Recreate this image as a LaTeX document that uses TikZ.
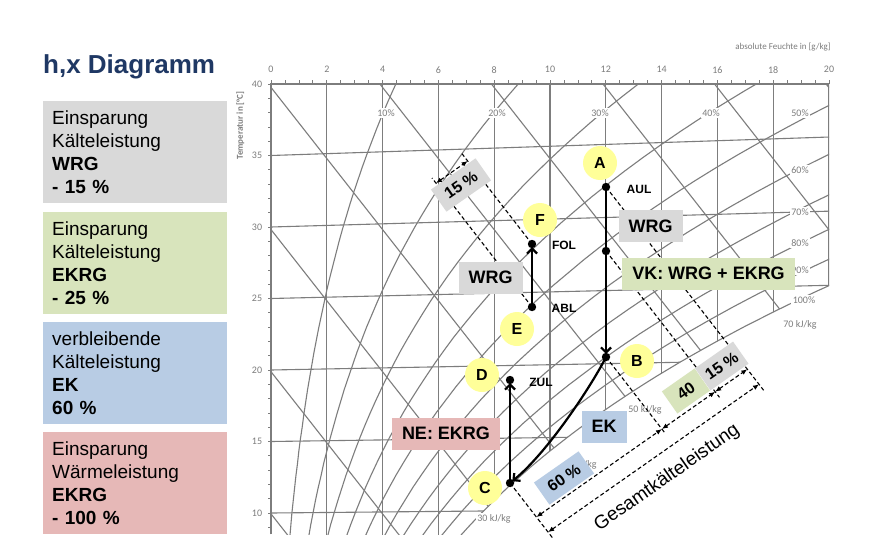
\documentclass[tikz,border=0pt]{standalone}
\usepackage{fontspec}
\setmainfont{Liberation Sans}
\newfontfamily\chartfont{Carlito}
\usetikzlibrary{calc, positioning, arrows.meta}

\definecolor{titleblue}{RGB}{31,56,100}
\definecolor{boxgray}{RGB}{217,217,217}
\definecolor{boxgreen}{RGB}{216,228,188}
\definecolor{boxblue}{RGB}{184,204,228}
\definecolor{boxred}{RGB}{230,184,183}
\definecolor{markyellow}{RGB}{255,255,153}
\definecolor{chartgray}{RGB}{125,125,125}

\newcommand{\Marke}[4]{%
    % #1 : name
    % #2 : x
    % #3 : y
    % #4 : letter
    \node[marke] (#1) at (#2,#3) {#4};
}

\begin{document}
\begin{tikzpicture}[
        x=1pt, y=-1pt,
        font=\fontsize{19}{23.3}\selectfont,
        gitter/.style={chartgray, line width=1.1pt},
        skala/.style={chartgray, font=\chartfont\fontsize{10}{11}\selectfont, inner sep=1pt},
        kurvenlabel/.style={skala, fill=white, inner sep=1.5pt},
        feld/.style={anchor=north west, inner xsep=9pt, minimum width=184pt,
            minimum height=102pt, text width=166pt, align=left},
        etikett/.style={font=\bfseries\fontsize{18}{20}\selectfont,
            inner xsep=10pt, minimum height=32pt},
        drehlabel/.style={rotate=35, font=\bfseries\fontsize{16}{18}\selectfont,
            inner xsep=9pt, minimum height=27pt},
        marke/.style={circle, fill=markyellow, minimum size=34pt, inner sep=0pt,
            font=\bfseries\fontsize{16}{18}\selectfont},
        punktname/.style={font=\bfseries\fontsize{12}{14}\selectfont},
        verlauf/.style={line width=2.2pt, -{Straight Barb[length=5pt,width=10pt]}},
        hilfslinie/.style={line width=1.1pt, dash pattern=on 4pt off 2.5pt},
        mass/.style={hilfslinie, {Latex[length=6pt,width=5pt]}-{Latex[length=6pt,width=5pt]}},
    ]

    \fill[white] (0,0) rectangle (872,554);
    \useasboundingbox (0,0) rectangle (872,554);

    % Legende links
    \node[anchor=base west, inner sep=0pt, text=titleblue,
        font=\bfseries\fontsize{26}{30}\selectfont] (titel) at (43,73) {h,x Diagramm};
    \node[feld, fill=boxgray] (feldWRG) at (43,101)
        {Einsparung\\Kälteleistung\\\textbf{WRG}\\\textbf{- 15 \%}};
    \node[feld, fill=boxgreen] (feldEKRG) at (43,212)
        {Einsparung\\Kälteleistung\\\textbf{EKRG}\\\textbf{- 25 \%}};
    \node[feld, fill=boxblue] (feldEK) at (43,322)
        {verbleibende\\Kälteleistung\\\textbf{EK}\\\textbf{60 \%}};
    \node[feld, fill=boxred] (feldNE) at (43,432)
        {Einsparung\\Wärmeleistung\\\textbf{EKRG}\\\textbf{- 100 \%}};

    % h,x Diagramm: x in g/kg, y = t (1 + 0.001849 x)
    \begin{scope}[shift={(271,656)}, x=27.9pt, y=14.3pt,
            declare function={
                ps(\tq)=6.112*exp(17.62*\tq/(243.12+\tq));
                xs(\tq,\fq)=622*(\fq*ps(\tq)/(1013.25-\fq*ps(\tq)));
                ys(\tq,\fq)=\tq*(1+0.001849*xs(\tq,\fq));
            }]
        \begin{scope}
            \clip (0,8.5) rectangle (20,40);
            \clip plot[variable=\t, domain=4:26.5, samples=40] ({xs(\t,1)},{ys(\t,1)})
                -- (22,45) -- (-1,45) -- (-1,4) -- cycle;
            \foreach \gx in {2,4,...,20}
                \draw[gitter] (\gx,0) -- (\gx,45);
            \foreach \gt in {10,15,...,40}
                \draw[gitter] (0,\gt) -- (20,{\gt*(1+0.001849*20)});
            \foreach \gh in {10,20,...,90}
                \draw[gitter] (0,{\gh/1.006}) -- (20,{(\gh-50.02)/1.006});
            \foreach \gf in {0.1,0.2,...,0.9}
                \draw[gitter] plot[variable=\t, domain=4:46, samples=50]
                    ({xs(\t,\gf)},{ys(\t,\gf)});
        \end{scope}
        \begin{scope}
            \clip (0,8.5) rectangle (20,40);
            \draw[gitter] plot[variable=\t, domain=8:26, samples=40] ({xs(\t,1)},{ys(\t,1)});
        \end{scope}

        % Achsen
        \draw[gitter, line width=1.3pt] (0,8.5) -- (0,40) -- (20,40);
        \foreach \gt in {9,...,40}
            \draw[gitter, line width=0.8pt] (0,\gt) -- ++(-3pt,0);
        \foreach \gx in {0,0.5,...,20}
            \draw[gitter, line width=0.8pt] (\gx,40) -- ++(0,4pt);
        \foreach \gx in {0,2,...,20}
            \node[skala] (ax\gx) at (\gx,41) {\gx};
        \foreach \gt in {10,15,...,40}
            \node[skala] (at\gt) at (-0.5,\gt) {\gt};
        \node[skala, rotate=90, font=\chartfont\bfseries\fontsize{9}{10}\selectfont]
            (tachse) at (-1.1,37.1) {Temperatur in [°C]};
        \node[skala, font=\chartfont\fontsize{9}{10}\selectfont]
            (xachse) at (18.35,42.6) {absolute Feuchte in [g/kg]};
    \end{scope}

    % Kurvenbeschriftung
    \foreach \n/\px/\py/\txt in {rh10/386/113/10\%, rh20/497/113/20\%,
            rh30/600/113/30\%, rh40/711/113/40\%, rh50/800/113/50\%,
            rh60/800/170/60\%, rh70/800/212/70\%, rh80/800/243/80\%,
            rh90/800/270/90\%, rh100/804/300/100\%}
        \node[kurvenlabel] (\n) at (\px,\py) {\txt};
    \node[kurvenlabel] (hh70) at (800,325) {70 kJ/kg};
    \node[kurvenlabel] (hh50) at (645,410) {50 kJ/kg};
    \node[kurvenlabel] (hh40) at (580,465) {40 kJ/kg};
    \node[kurvenlabel] (hh30) at (494,519) {30 kJ/kg};

    % Zustandspunkte
    \coordinate (aul) at (606,187);
    \coordinate (vk) at (606,251);
    \coordinate (bpt) at (606,357);
    \coordinate (fol) at (532,244);
    \coordinate (abl) at (532,307);
    \coordinate (zul) at (510,380);
    \coordinate (cpt) at (510,483);

    % Richtung h = const
    \def\hx{100}
    \def\hy{129}
    \coordinate (aulH) at ($(aul)+(\hx,\hy)$);
    \coordinate (vkH) at ($(vk)+(\hx,\hy)$);
    \coordinate (bptH) at ($(bpt)+(\hx,\hy)$);
    \coordinate (cptH) at ($(cpt)+(\hx,\hy)$);
    \coordinate (folH) at ($(fol)-(\hx,\hy)$);
    \coordinate (ablH) at ($(abl)-(\hx,\hy)$);

    % Masslinien
    \coordinate (k0) at (542,513);
    \coordinate (k1) at ($(k0)+(81.9,-57.4)$);
    \coordinate (g0) at (755,387);
    \coordinate (g1) at ($(g0)+(81.9,-57.4)$);
    \coordinate (s1) at (intersection of cpt--cptH and k0--k1);
    \coordinate (s2) at (intersection of bpt--bptH and k0--k1);
    \coordinate (s3) at (intersection of vk--vkH and k0--k1);
    \coordinate (s4) at (intersection of aul--aulH and k0--k1);
    \coordinate (gl) at (intersection of cpt--cptH and g0--g1);
    \coordinate (gr) at (intersection of aul--aulH and g0--g1);
    \coordinate (q1) at ($(abl)!0.96!(ablH)$);
    \coordinate (q1d) at ($(q1)+(81.9,-57.4)$);
    \coordinate (q2) at (intersection of fol--folH and q1--q1d);

    \draw[hilfslinie] (cpt) -- ($(cpt)!1.15!(gl)$);
    \draw[hilfslinie] (bpt) -- ($(bpt)!1.06!(s2)$);
    \draw[hilfslinie] (vk) -- ($(vk)!1.04!(s3)$);
    \draw[hilfslinie] (aul) -- ($(aul)!1.03!(gr)$);
    \draw[hilfslinie] (abl) -- (ablH);
    \draw[hilfslinie] (fol) -- ($(fol)!0.7!(folH)$);

    \draw[mass] (s1) -- (s2);
    \draw[mass] (s2) -- (s3);
    \draw[mass] (s3) -- (s4);
    \draw[mass] (gl) -- (gr);
    \draw[mass] (q1) -- (q2);

    \node[drehlabel, fill=boxgray] (p15oben) at (461,185) {15 \%};
    \node[drehlabel, fill=boxblue] (p60) at (564,478) {60 \%};
    \node[drehlabel, fill=boxgreen, minimum width=40pt] (p40) at (686,391) {40};
    \node[drehlabel, fill=boxgray, minimum width=46pt, inner xsep=5pt, anchor=west]
        (p15) at (p40.east) {15 \%};
    \node[rotate=35, font=\fontsize{19}{21}\selectfont] (gesamt) at (667,478) {Gesamtkälteleistung};

    % Beschriftungen
    \node[etikett, fill=boxgray] (wrgA) at (650.5,226) {WRG};
    \node[etikett, fill=boxgreen] (vkbox) at (708.5,273.5) {VK: WRG + EKRG};
    \node[etikett, fill=boxgray] (wrgF) at (490.5,277.5) {WRG};
    \node[etikett, fill=boxred] (nebox) at (446,433.5) {NE: EKRG};
    \node[etikett, fill=boxblue] (ekbox) at (604,426.5) {EK};

    % Zustandsaenderungen
    \draw[verlauf, shorten >=3pt] (aul) -- (bpt);
    \draw[verlauf, shorten >=3pt] (abl) -- (fol);
    \draw[verlauf, shorten >=3pt] (cpt) -- (zul);
    \draw[verlauf, shorten >=3pt] (bpt) .. controls (592,385) and (548,452) .. (cpt);
    \foreach \p in {aul,vk,bpt,fol,abl,zul,cpt}
        \fill (\p) circle (4.2pt);

    \Marke{mA}{600}{163}{A}
    \Marke{mB}{637}{361}{B}
    \Marke{mC}{485}{488}{C}
    \Marke{mD}{482}{375}{D}
    \Marke{mE}{517}{329}{E}
    \Marke{mF}{540}{220}{F}

    \node[punktname] (nAUL) at (639,189) {AUL};
    \node[punktname] (nFOL) at (564,245) {FOL};
    \node[punktname] (nABL) at (564,308) {ABL};
    \node[punktname] (nZUL) at (541,382) {ZUL};

\end{tikzpicture}
\end{document}
